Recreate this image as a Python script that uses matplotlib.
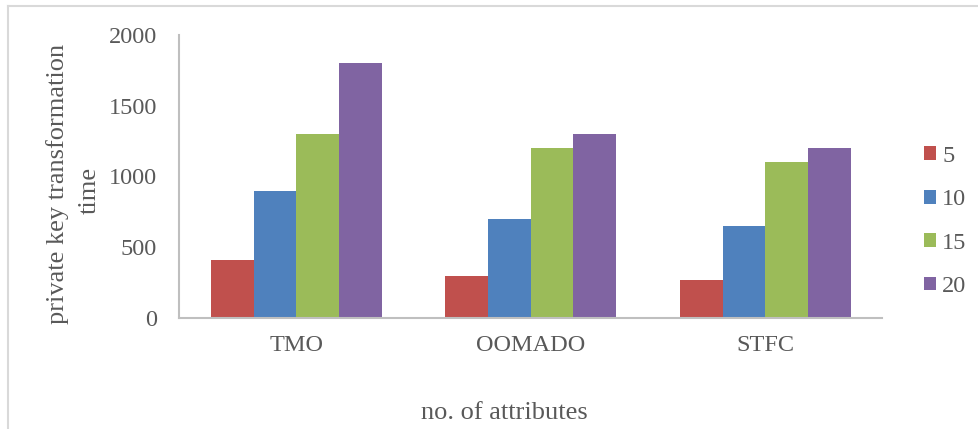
import matplotlib
matplotlib.use('Agg')
import matplotlib.pyplot as plt
from matplotlib.lines import Line2D
import numpy as np

# values
methods = ['TMO', 'OOMADO', 'STFC']
attr_counts = ['5', '10', '15', '20']
times_5 = [410, 300, 270]
times_10 = [900, 700, 650]
times_15 = [1300, 1200, 1100]
times_20 = [1800, 1300, 1200]
colors = ['#C0504D', '#4F81BD', '#9BBB59', '#8064A2']

plt.rcParams['font.family'] = ['Liberation Serif', 'DejaVu Serif']
txt = '#595959'

W, H = 979, 429
fig = plt.figure(figsize=(W / 100, H / 100), dpi=100)
ax = fig.add_axes([179 / W, 1 - 318 / H, (882.5 - 179) / W, (318 - 35) / H])

x = np.arange(len(methods))
bw = 0.182
series = [times_5, times_10, times_15, times_20]
for k, vals in enumerate(series):
    ax.bar(x + (k - 1.5) * bw, vals, width=bw, color=colors[k], label=attr_counts[k])

ax.set_xlim(-0.5, 2.5)
ax.set_ylim(0, 2000)
ax.set_yticks([0, 500, 1000, 1500, 2000])
ax.set_xticks(x)
ax.set_xticklabels(methods)
ax.tick_params(length=0, labelsize=17.5, labelcolor=txt)
ax.tick_params(axis='y', pad=16)
ax.tick_params(axis='x', pad=12)
for s in ['top', 'right']:
    ax.spines[s].set_visible(False)
for s in ['left', 'bottom']:
    ax.spines[s].set_color('#BFBFBF')
    ax.spines[s].set_linewidth(1.5)

fig.text(58 / W, 1 - 184 / H, 'private key transformation', rotation=90,
         ha='center', va='center', fontsize=19, color=txt)
fig.text(90 / W, 1 - 190 / H, 'time', rotation=90,
         ha='center', va='center', fontsize=19, color=txt)
fig.text(504 / W, 1 - 413 / H, 'no. of attributes', ha='center', va='center',
         fontsize=19, color=txt)

fig.legend(loc='upper left', bbox_to_anchor=(924 / W, 1 - 146 / H), frameon=False,
           fontsize=17.5, labelcolor=txt, handlelength=0.5, handleheight=0.5,
           handletextpad=0.25, labelspacing=0.92, borderpad=0, borderaxespad=0)

# light outer border (top and left edges visible)
fig.add_artist(Line2D([8 / W, 1], [1 - 6 / H, 1 - 6 / H], color='#D9D9D9', lw=1.5,
                      transform=fig.transFigure))
fig.add_artist(Line2D([8 / W, 8 / W], [0, 1 - 6 / H], color='#D9D9D9', lw=1.5,
                      transform=fig.transFigure))

fig.savefig('out.png', dpi=100)
